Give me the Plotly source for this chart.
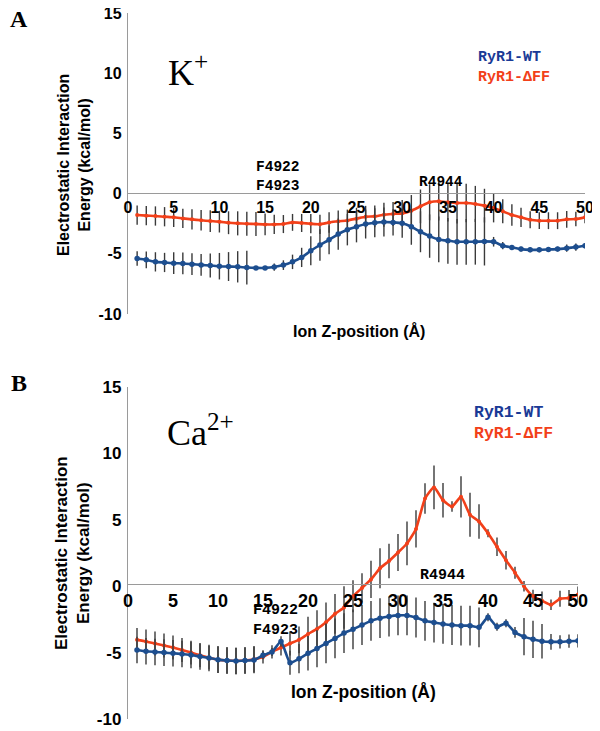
import plotly.graph_objects as go

# ---------------- data ----------------
z_pos = list(range(1, 51))

wt_k = [-5.39, -5.5, -5.67, -5.72, -5.78, -5.8, -5.86, -5.92, -5.97, -6.03,
        -6.06, -6.08, -6.14, -6.17, -6.17, -6.1, -5.94, -5.67, -5.3, -4.75,
        -4.27, -3.84, -3.36, -3.0, -2.75, -2.53, -2.42, -2.36, -2.39, -2.47,
        -2.75, -3.17, -3.53, -3.81, -3.92, -4.0, -4.0, -4.0, -3.97, -4.0,
        -4.33, -4.47, -4.61, -4.67, -4.67, -4.64, -4.61, -4.53, -4.44, -4.33]
wt_k_err = [0.6, 0.7, 0.8, 0.8, 0.9, 0.9, 0.9, 0.9, 1.0, 1.1,
            1.2, 1.3, 1.4, 0.1, 0.1, 0.3, 0.4, 0.6, 0.8, 1.2,
            1.3, 1.2, 1.3, 1.3, 1.3, 1.2, 1.2, 1.2, 1.1, 1.2,
            1.5, 1.7, 1.8, 1.9, 1.9, 1.9, 1.9, 1.9, 2.0, 0.4,
            0.3, 0.2, 0.2, 0.2, 0.2, 0.2, 0.2, 0.3, 0.3, 0.2]

dff_k = [-1.78, -1.83, -1.86, -1.92, -1.97, -2.06, -2.14, -2.22, -2.28, -2.33,
         -2.42, -2.47, -2.5, -2.53, -2.56, -2.56, -2.53, -2.39, -2.44, -2.5,
         -2.55, -2.4, -2.3, -2.23, -2.08, -1.92, -1.89, -1.75, -1.69, -1.64,
         -1.42, -1.06, -0.72, -0.64, -0.72, -0.78, -0.78, -0.86, -1.0, -1.19,
         -1.47, -1.78, -1.97, -2.17, -2.25, -2.25, -2.25, -2.14, -2.11, -1.97]
dff_k_err = [0.8, 0.8, 0.8, 0.8, 0.8, 0.8, 0.85, 0.85, 0.9, 0.9,
             0.95, 1.0, 1.0, 1.0, 0.9, 0.8, 0.75, 0.7, 0.75, 0.8,
             0.8, 0.85, 0.9, 0.9, 0.9, 0.9, 0.9, 1.0, 1.0, 1.1,
             1.3, 1.4, 1.5, 1.6, 1.6, 1.7, 1.6, 1.5, 1.4, 1.2,
             1.0, 0.9, 0.8, 0.7, 0.7, 0.7, 0.7, 0.7, 0.6, 0.5]

wt_ca = [-4.8, -4.9, -4.95, -5.0, -5.05, -5.1, -5.18, -5.3, -5.4, -5.53,
         -5.6, -5.63, -5.6, -5.56, -5.2, -4.95, -4.16, -5.76, -5.46, -5.05,
         -4.7, -4.31, -3.93, -3.53, -3.25, -2.92, -2.61, -2.41, -2.28, -2.2,
         -2.2, -2.36, -2.61, -2.74, -2.84, -2.92, -2.97, -2.97, -3.1, -2.33,
         -3.05, -2.79, -3.48, -3.8, -4.0, -4.14, -4.19, -4.19, -4.14, -4.11]
wt_ca_err = [1.0, 1.0, 1.0, 1.0, 1.0, 1.0, 1.0, 1.0, 1.0, 1.0,
             1.0, 1.0, 1.0, 1.0, 0.3, 0.3, 0.4, 0.9, 1.1, 1.3,
             1.4, 1.5, 1.5, 1.5, 1.5, 1.5, 1.5, 1.5, 1.5, 1.5,
             1.5, 1.5, 1.5, 1.5, 1.5, 1.5, 1.5, 1.5, 1.5, 0.3,
             0.3, 0.3, 0.4, 1.4, 1.4, 1.3, 0.6, 0.5, 0.5, 0.5]

dff_ca = [-4.04, -4.16, -4.31, -4.47, -4.62, -4.8, -5.0, -5.2, -5.38, -5.53,
          -5.6, -5.63, -5.6, -5.5, -5.33, -4.95, -4.62, -4.31, -4.04, -3.6,
          -3.22, -2.72, -2.08, -1.6, -0.76, -0.13, 0.51, 1.35, 1.9, 2.54,
          3.22, 4.31, 6.6, 7.44, 6.47, 6.0, 6.73, 5.38, 4.87, 3.98,
          2.97, 1.95, 1.02, 0.0, -0.76, -1.09, -1.4, -0.94, -0.89, -0.63]
dff_ca_err = [0.9, 0.9, 0.9, 0.9, 0.9, 0.9, 0.9, 0.9, 0.9, 1.0,
              1.0, 1.0, 1.0, 1.0, 0.5, 0.5, 0.6, 0.9, 1.0, 1.3,
              1.4, 1.5, 1.5, 1.6, 1.2, 1.1, 1.4, 1.5, 1.3, 1.4,
              1.65, 1.4, 1.15, 1.65, 1.3, 0.4, 1.55, 1.65, 1.3, 0.3,
              0.7, 0.7, 0.45, 0.4, 0.5, 0.7, 0.4, 0.6, 0.6, 0.6]

x_ticks = [0, 5, 10, 15, 20, 25, 30, 35, 40, 45, 50]
y_ticks = [-10, -5, 0, 5, 10, 15]
y_tick_labels = ["-10", "-5", "0", "5", "10", "15"]

# ---------------- style ----------------
PAGE_OFF = 8          # default body margin of the page
W, H = 600 - PAGE_OFF, 731 - PAGE_OFF
BLUE = "#1d4e8f"
RED = "#f2401a"
LEG_BLUE = "#1a3a96"
ERR = "#3a3a3a"
SANS = "Liberation Sans, Arial, sans-serif"
SERIF = "Liberation Serif, Times New Roman, serif"
MONO = "Liberation Mono, Courier New, monospace"


def px_x(p):
    return (p - PAGE_OFF) / W


def px_y(p):
    return 1 - (p - PAGE_OFF) / H


fig = go.Figure()


def add_series(x, y, err, color, msize, xa, ya):
    fig.add_trace(go.Scatter(
        x=x, y=y, mode="lines+markers",
        line=dict(color=color, width=2.6, shape="spline", smoothing=0.5),
        marker=dict(color=color, size=msize),
        error_y=dict(type="data", array=err, visible=True,
                     color=ERR, thickness=1.4, width=0),
        xaxis=xa, yaxis=ya, showlegend=False, hoverinfo="skip"))


add_series(z_pos, dff_k, dff_k_err, RED, 4, "x", "y")
add_series(z_pos, wt_k, wt_k_err, BLUE, 5.5, "x", "y")
add_series(z_pos, dff_ca, dff_ca_err, RED, 4, "x2", "y2")
add_series(z_pos, wt_ca, wt_ca_err, BLUE, 5.5, "x2", "y2")

# panel geometry (pixels in the 600x731 window)
A_top, A_bot, A_zero = 13, 314, 193
B_top, B_bot, B_zero = 387, 719, 584
X_left = 128
A_right, B_right = 585, 578

axis_common = dict(showgrid=False, zeroline=False, showline=True,
                   linecolor="#9a9a9a", linewidth=1.3, ticks="",
                   automargin=False, ticklabeloverflow="allow")

fig.update_layout(
    width=W, height=H,
    margin=dict(l=0, r=0, t=0, b=0),
    paper_bgcolor="white", plot_bgcolor="white",
    xaxis=dict(domain=[px_x(X_left), px_x(A_right)], range=[0, 50],
               anchor="free", position=px_y(A_zero),
               tickvals=x_ticks, ticklabelstandoff=0,
               tickfont=dict(family=SANS, size=16, color="black", weight="bold"),
               **axis_common),
    yaxis=dict(domain=[px_y(A_bot), px_y(A_top)], range=[-10, 15],
               anchor="x", tickvals=y_ticks, ticktext=y_tick_labels,
               ticklabelstandoff=2,
               tickfont=dict(family=SANS, size=16, color="black", weight="bold"),
               **axis_common),
    xaxis2=dict(domain=[px_x(X_left), px_x(B_right)], range=[0, 50],
                anchor="free", position=px_y(B_zero),
                tickvals=x_ticks, ticklabelstandoff=0,
                tickfont=dict(family=SANS, size=18, color="black", weight="bold"),
                **axis_common),
    yaxis2=dict(domain=[px_y(B_bot), px_y(B_top)], range=[-10, 15],
                anchor="x2", tickvals=y_ticks, ticktext=y_tick_labels,
                ticklabelstandoff=2,
                tickfont=dict(family=SANS, size=17, color="black", weight="bold"),
                **axis_common),
)

ann = []


def paper_text(text, xp, yp, size, family, color="black", angle=0,
               xanchor="center", yanchor="middle"):
    ann.append(dict(text=text, x=px_x(xp), y=px_y(yp), xref="paper", yref="paper",
                    showarrow=False, textangle=angle, xanchor=xanchor, yanchor=yanchor,
                    font=dict(family=family, size=size, color=color)))


def data_text(text, x, y, xr, yr, size):
    ann.append(dict(text="<b>" + text + "</b>", x=x, y=y, xref=xr, yref=yr,
                    showarrow=False, xanchor="center", yanchor="middle",
                    font=dict(family=MONO, size=size, color="black")))


# panel letters
paper_text("<b>A</b>", 19, 19, 24, SERIF)
paper_text("<b>B</b>", 19, 383, 24, SERIF)

# ion labels
paper_text("K<sup>+</sup>", 166, 70, 36, SERIF, xanchor="left")
paper_text("Ca<sup>2+</sup>", 165, 430, 36, SERIF, xanchor="left")

# y titles
paper_text("<b>Electrostatic Interaction<br>Energy (kcal/mol)</b>", 74, 165, 16, SANS, angle=-90)
paper_text("<b>Electrostatic Interaction<br>Energy (kcal/mol)</b>", 72, 553, 17, SANS, angle=-90)

# x titles
paper_text("<b>Ion Z-position (Å)</b>", 359, 331, 16, SANS)
paper_text("<b>Ion Z-position (Å)</b>", 363, 692, 17.5, SANS)

# legends
paper_text("<b>RyR1-WT</b>", 476, 58, 15, MONO, color=LEG_BLUE, xanchor="left")
paper_text("<b>RyR1-ΔFF</b>", 476, 77, 15, MONO, color=RED, xanchor="left")
paper_text("<b>RyR1-WT</b>", 472, 412, 16.5, MONO, color=LEG_BLUE, xanchor="left")
paper_text("<b>RyR1-ΔFF</b>", 472, 433, 16.5, MONO, color=RED, xanchor="left")

# residue labels
data_text("F4922", 16.4, 2.25, "x", "y", 14.5)
data_text("F4923", 16.4, 0.67, "x", "y", 14.5)
data_text("R4944", 34.2, 1.0, "x", "y", 14.5)
data_text("F4922", 16.4, -1.83, "x2", "y2", 15)
data_text("F4923", 16.4, -3.35, "x2", "y2", 15)
data_text("R4944", 34.9, 0.84, "x2", "y2", 15)

fig.update_layout(annotations=ann)

fig.write_html("out.html")
